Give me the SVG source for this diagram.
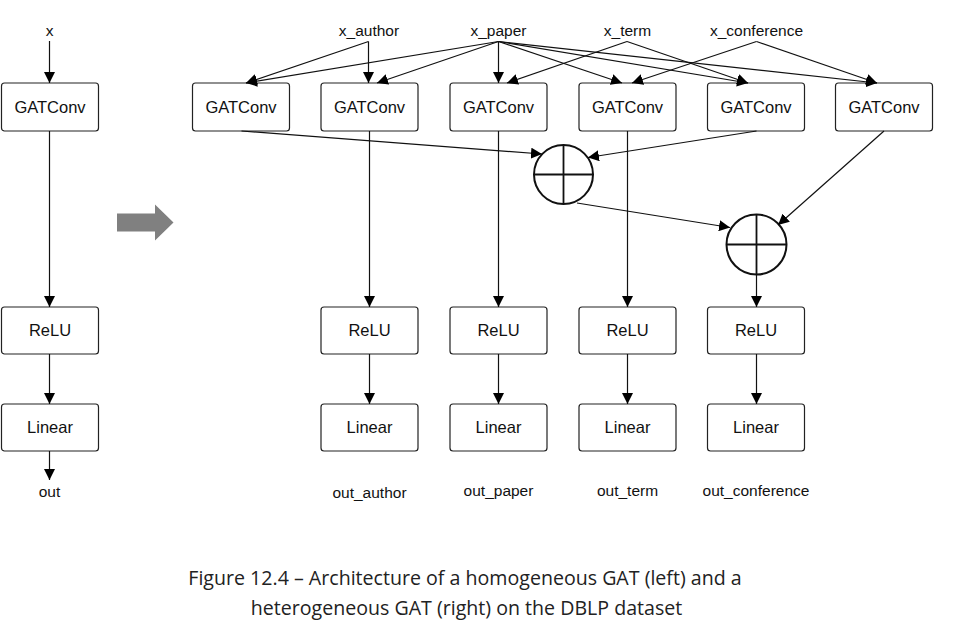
<svg xmlns="http://www.w3.org/2000/svg" width="961" height="635" viewBox="0 0 961 635">
<style>
.box{fill:#fff;stroke:#222;stroke-width:1.2}
.bt{font-family:"Liberation Sans",Arial,sans-serif;font-size:16.5px;fill:#111;text-anchor:middle}
.lbl{font-family:"Liberation Sans",Arial,sans-serif;font-size:15.5px;fill:#111;text-anchor:middle}
.cap{font-family:"Open Sans","Liberation Sans",sans-serif;font-size:19.6px;fill:#222;text-anchor:middle}
.e{stroke:#111;stroke-width:1.2;fill:none;marker-end:url(#ah)}
.plus{fill:#fff;stroke:#111;stroke-width:2}
.pl{stroke:#111;stroke-width:1.8}
</style>
<defs>
<marker id="ah" viewBox="0 0 10 10" markerWidth="11" markerHeight="11" refX="10" refY="5" orient="auto" markerUnits="userSpaceOnUse">
<path d="M0,0 L10,5 L0,10 z" fill="#000"/>
</marker>
</defs>
<rect width="961" height="635" fill="#fff"/>

<!-- left homogeneous -->
<text class="lbl" x="49.5" y="36">x</text>
<g id="l_gat"><rect class="box" x="1.5" y="83" width="97" height="48" rx="3"/><text class="bt" x="50" y="113">GATConv</text></g>
<g id="l_relu"><rect class="box" x="1.5" y="307" width="97" height="47" rx="3"/><text class="bt" x="50" y="336">ReLU</text></g>
<g id="l_lin"><rect class="box" x="1.5" y="404" width="97" height="47" rx="3"/><text class="bt" x="50" y="433">Linear</text></g>
<text class="lbl" x="49.5" y="497">out</text>

<!-- big gray arrow -->
<path d="M117,213.5 L155,213.5 L155,204.5 L173.5,222.5 L155,240.5 L155,231.5 L117,231.5 z" fill="#808080"/>

<!-- input labels -->
<text class="lbl" x="369" y="36">x_author</text>
<text class="lbl" x="498.5" y="36">x_paper</text>
<text class="lbl" x="627.5" y="36">x_term</text>
<text class="lbl" x="756.5" y="36">x_conference</text>

<!-- GATConv row -->
<g id="gat1"><rect class="box" x="192.5" y="83" width="97" height="48" rx="3"/><text class="bt" x="241" y="113">GATConv</text></g>
<g id="gat2"><rect class="box" x="321" y="83" width="97" height="48" rx="3"/><text class="bt" x="369.5" y="113">GATConv</text></g>
<g id="gat3"><rect class="box" x="450" y="83" width="97" height="48" rx="3"/><text class="bt" x="498.5" y="113">GATConv</text></g>
<g id="gat4"><rect class="box" x="579" y="83" width="97" height="48" rx="3"/><text class="bt" x="627.5" y="113">GATConv</text></g>
<g id="gat5"><rect class="box" x="707.5" y="83" width="97" height="48" rx="3"/><text class="bt" x="756" y="113">GATConv</text></g>
<g id="gat6"><rect class="box" x="835.5" y="83" width="97" height="48" rx="3"/><text class="bt" x="884" y="113">GATConv</text></g>

<!-- sum nodes -->
<g id="sum1"><circle class="plus" cx="563.5" cy="174.5" r="29.5"/><line class="pl" x1="534" y1="174.5" x2="593" y2="174.5"/><line class="pl" x1="563.5" y1="145" x2="563.5" y2="204"/></g>
<g id="sum2"><circle class="plus" cx="756.5" cy="244.5" r="30"/><line class="pl" x1="726.5" y1="244.5" x2="786.5" y2="244.5"/><line class="pl" x1="756.5" y1="214.5" x2="756.5" y2="274.5"/></g>

<!-- ReLU row -->
<g id="relu1"><rect class="box" x="321" y="307" width="97" height="47" rx="3"/><text class="bt" x="369.5" y="336">ReLU</text></g>
<g id="relu2"><rect class="box" x="450" y="307" width="97" height="47" rx="3"/><text class="bt" x="498.5" y="336">ReLU</text></g>
<g id="relu3"><rect class="box" x="579" y="307" width="97" height="47" rx="3"/><text class="bt" x="627.5" y="336">ReLU</text></g>
<g id="relu4"><rect class="box" x="707.5" y="307" width="97" height="47" rx="3"/><text class="bt" x="756" y="336">ReLU</text></g>

<!-- Linear row -->
<g id="lin1"><rect class="box" x="321" y="404" width="97" height="47" rx="3"/><text class="bt" x="369.5" y="433">Linear</text></g>
<g id="lin2"><rect class="box" x="450" y="404" width="97" height="47" rx="3"/><text class="bt" x="498.5" y="433">Linear</text></g>
<g id="lin3"><rect class="box" x="579" y="404" width="97" height="47" rx="3"/><text class="bt" x="627.5" y="433">Linear</text></g>
<g id="lin4"><rect class="box" x="707.5" y="404" width="97" height="47" rx="3"/><text class="bt" x="756" y="433">Linear</text></g>

<!-- output labels -->
<text class="lbl" x="369.5" y="498">out_author</text>
<text class="lbl" x="498.5" y="496">out_paper</text>
<text class="lbl" x="627.5" y="496">out_term</text>
<text class="lbl" x="756" y="496">out_conference</text>

<g id="connectors">
<line class="e" x1="49.5" y1="41" x2="49.5" y2="83"/>
<line class="e" x1="49.5" y1="131" x2="49.5" y2="307"/>
<line class="e" x1="49.5" y1="354" x2="49.5" y2="404"/>
<line class="e" x1="49.5" y1="451" x2="49.5" y2="480"/>

<line class="e" x1="368.5" y1="41.5" x2="246" y2="83"/>
<line class="e" x1="368.5" y1="41.5" x2="368.5" y2="83"/>
<line class="e" x1="498.5" y1="41.5" x2="246" y2="83"/>
<line class="e" x1="498.5" y1="41.5" x2="377" y2="83"/>
<line class="e" x1="498.5" y1="41.5" x2="498.5" y2="83"/>
<line class="e" x1="498.5" y1="41.5" x2="622" y2="83"/>
<line class="e" x1="498.5" y1="41.5" x2="748" y2="83"/>
<line class="e" x1="498.5" y1="41.5" x2="877" y2="83"/>
<line class="e" x1="627" y1="41.5" x2="507" y2="83"/>
<line class="e" x1="627" y1="41.5" x2="748" y2="83"/>
<line class="e" x1="756.5" y1="41.5" x2="632" y2="83"/>
<line class="e" x1="756.5" y1="41.5" x2="877" y2="83"/>

<line class="e" x1="241.5" y1="131" x2="542" y2="154"/>
<line class="e" x1="756.5" y1="131" x2="588" y2="157.5"/>
<line class="e" x1="577" y1="203" x2="730" y2="227.5"/>
<line class="e" x1="884" y1="131" x2="778" y2="225"/>
<line class="e" x1="756.5" y1="274.5" x2="756.5" y2="307"/>

<line class="e" x1="369.5" y1="131" x2="369.5" y2="307"/>
<line class="e" x1="498.5" y1="131" x2="498.5" y2="307"/>
<line class="e" x1="627.5" y1="131" x2="627.5" y2="307"/>

<line class="e" x1="369.5" y1="354" x2="369.5" y2="404"/>
<line class="e" x1="498.5" y1="354" x2="498.5" y2="404"/>
<line class="e" x1="627.5" y1="354" x2="627.5" y2="404"/>
<line class="e" x1="756.5" y1="354" x2="756.5" y2="404"/>
</g>

<text class="cap" x="465" y="585">Figure 12.4 – Architecture of a homogeneous GAT (left) and a</text>
<text class="cap" x="466.5" y="615">heterogeneous GAT (right) on the DBLP dataset</text>
</svg>
